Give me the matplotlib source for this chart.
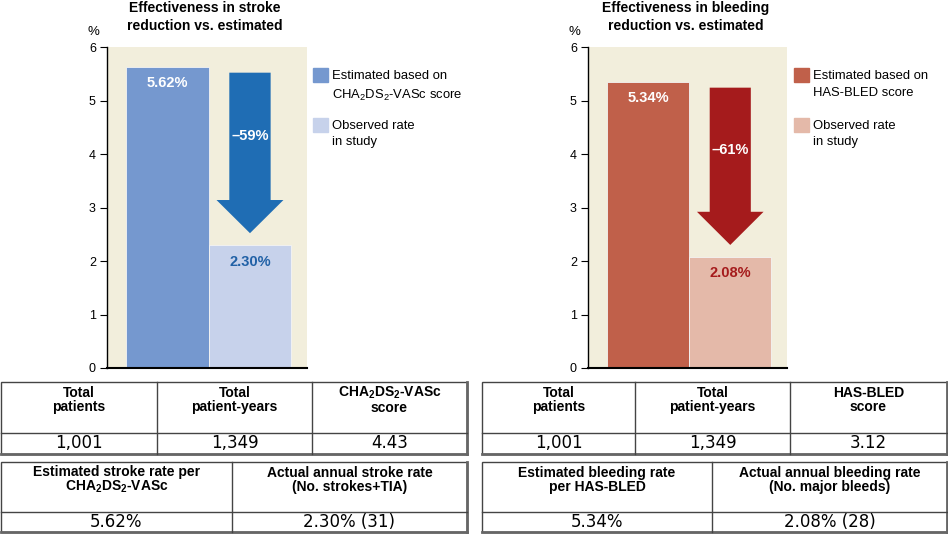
import matplotlib.pyplot as plt
from matplotlib.patches import Rectangle, FancyArrow

plt.rcParams['font.family'] = ['Liberation Sans Narrow', 'Liberation Sans', 'DejaVu Sans']
plt.rcParams['mathtext.default'] = 'regular'

W, H = 948, 539  # figure size in pixels

# ---- data ----
titles = ['Effectiveness in stroke\nreduction vs. estimated',
          'Effectiveness in bleeding\nreduction vs. estimated']
estimated = [5.62, 5.34]
observed = [2.30, 2.08]
reduction = ['\u201359%', '\u201361%']
legend_est = ['Estimated based on\nCHA$_2$DS$_2$-VASc score',
              'Estimated based on\nHAS-BLED score']
legend_obs = 'Observed rate\nin study'
yticks = [0, 1, 2, 3, 4, 5, 6]

top_heads = [['Total\npatients', 'Total\npatient-years', 'CHA$_2$DS$_2$-VASc\nscore'],
             ['Total\npatients', 'Total\npatient-years', 'HAS-BLED\nscore']]
top_vals = [['1,001', '1,349', '4.43'],
            ['1,001', '1,349', '3.12']]
bot_heads = [['Estimated stroke rate per\nCHA$_2$DS$_2$-VASc',
              'Actual annual stroke rate\n(No. strokes+TIA)'],
             ['Estimated bleeding rate\nper HAS-BLED',
              'Actual annual bleeding rate\n(No. major bleeds)']]
bot_vals = [['5.62%', '2.30% (31)'],
            ['5.34%', '2.08% (28)']]

# ---- styles ----
est_col = ['#7598CF', '#C0604A']
obs_col = ['#C7D2EB', '#E4B9A9']
arrow_col = ['#1F6DB4', '#A51B1C']
obs_txt = ['#2161A6', '#A51B1C']
beige = '#F2EEDC'
line_col = '#444444'

ax_left = [107, 588]   # px
ax_width = [200, 199]
ax_top, ax_bot = 47, 368
leg_x = [313, 794]
pct_x = [93, 574]
tab_x = [(1, 467), (482, 947)]
tab_div1 = [[157, 312], [635, 790]]
tab_div2 = [[232], [712]]

fig = plt.figure(figsize=(W / 100, H / 100), dpi=100)

# overlay in pixel coords for legend, tables, labels
ov = fig.add_axes([0, 0, 1, 1])
ov.set_xlim(0, W)
ov.set_ylim(H, 0)
ov.axis('off')


def draw_table(x0, x1, y0, ym, y1, divs, heads, vals):
    ov.add_patch(Rectangle((x0, y0), x1 - x0, y1 - y0, fill=False, ec=line_col, lw=1))
    ov.plot([x1, x1], [y0, y1], color='#666666', lw=2)
    ov.plot([x0, x1], [y1, y1], color='#666666', lw=2)
    ov.plot([x0, x1], [ym, ym], color=line_col, lw=1)
    for d in divs:
        ov.plot([d, d], [y0, y1], color=line_col, lw=1)
    edges = [x0] + divs + [x1]
    for i in range(len(heads)):
        cx = (edges[i] + edges[i + 1]) / 2
        ov.text(cx, y0 + 18, heads[i], ha='center', va='center',
                fontsize=10, fontweight='bold', linespacing=1.0)
        ov.text(cx, (ym + y1) / 2, vals[i], ha='center', va='center',
                fontsize=12, family=['DejaVu Sans'])


for p in range(2):
    ax = fig.add_axes([ax_left[p] / W, 1 - ax_bot / H,
                       ax_width[p] / W, (ax_bot - ax_top) / H])
    ax.set_facecolor(beige)
    ax.bar([0, 1], [estimated[p], observed[p]], width=1.0,
           color=[est_col[p], obs_col[p]], edgecolor='#F4F4F4', linewidth=0.6, zorder=2)
    ax.set_xlim(-0.73, 1.69)
    ax.set_ylim(0, 6)
    ax.set_yticks(yticks)
    ax.set_xticks([])
    ax.tick_params(axis='y', direction='out', length=5, width=0.8, labelsize=9, pad=3)
    for s in ['top', 'right']:
        ax.spines[s].set_visible(False)
    ax.spines['left'].set_linewidth(1)
    ax.spines['bottom'].set_linewidth(1.5)
    ax.spines['bottom'].set_zorder(5)

    # arrow from estimated down to observed
    a_top = estimated[p] - 0.1
    a_tip = observed[p] + 0.22
    ax.add_patch(FancyArrow(1, a_top, 0, a_tip - a_top, width=0.5, head_width=0.81,
                            head_length=0.62, length_includes_head=True,
                            color=arrow_col[p], lw=0, zorder=3))
    ax.text(1, (a_top + a_tip + 0.62) / 2, reduction[p], ha='center', va='center',
            color='white', fontsize=10.5, fontweight='bold', zorder=4)
    ax.text(0, estimated[p] - 0.3, '%.2f%%' % estimated[p], ha='center', va='center',
            color='white', fontsize=10.5, fontweight='bold', zorder=4)
    ax.text(1, observed[p] - 0.31, '%.2f%%' % observed[p], ha='center', va='center',
            color=obs_txt[p], fontsize=10.5, fontweight='bold', zorder=4)

    # title and unit
    cx = ax_left[p] + ax_width[p] / 2
    ov.text(cx - 2, 17, titles[p], ha='center', va='center', fontsize=10,
            fontweight='bold', linespacing=1.3)
    ov.text(pct_x[p], 32, '%', ha='center', va='center', fontsize=9.5)

    # legend
    ov.add_patch(Rectangle((leg_x[p], 68), 15, 14, color=est_col[p]))
    ov.text(leg_x[p] + 19, 70, legend_est[p], ha='left', va='top', fontsize=9.4,
            linespacing=1.5)
    ov.add_patch(Rectangle((leg_x[p], 118), 15, 14, color=obs_col[p]))
    ov.text(leg_x[p] + 19, 120, legend_obs, ha='left', va='top', fontsize=9.4,
            linespacing=1.5)

    # tables
    draw_table(tab_x[p][0], tab_x[p][1], 382, 433, 454, tab_div1[p],
               top_heads[p], top_vals[p])
    draw_table(tab_x[p][0], tab_x[p][1], 462, 512, 532, tab_div2[p],
               bot_heads[p], bot_vals[p])

fig.savefig('out.png', dpi=100)
